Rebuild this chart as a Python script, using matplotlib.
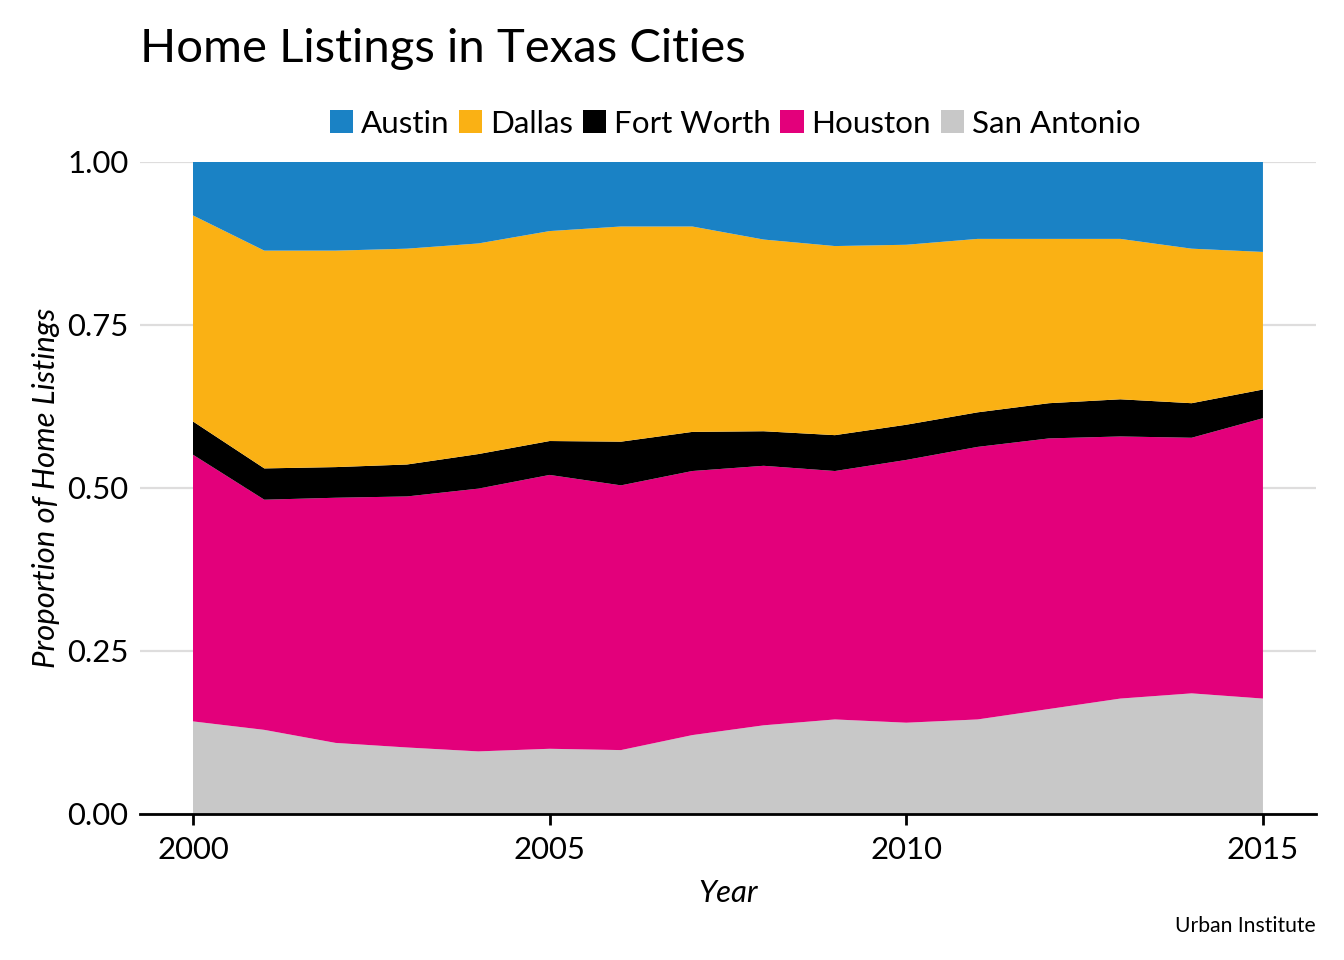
import matplotlib.pyplot as plt
from matplotlib.patches import Patch

plt.rcParams["font.family"] = ["Lato", "DejaVu Sans"]

years = list(range(2000, 2016))
cities = ["Austin", "Dallas", "Fort Worth", "Houston", "San Antonio"]
colors = ["#1a82c5", "#fab114", "#000000", "#e3007b", "#c8c8c8"]

austin = [0.082, 0.136, 0.136, 0.133, 0.125, 0.106, 0.099, 0.099,
          0.119, 0.129, 0.127, 0.118, 0.118, 0.118, 0.133, 0.138]
dallas = [0.316, 0.334, 0.332, 0.331, 0.323, 0.322, 0.330, 0.315,
          0.294, 0.290, 0.276, 0.266, 0.252, 0.246, 0.237, 0.211]
fort_worth = [0.051, 0.048, 0.047, 0.049, 0.053, 0.052, 0.067, 0.060,
              0.053, 0.055, 0.054, 0.053, 0.054, 0.057, 0.053, 0.044]
houston = [0.409, 0.353, 0.376, 0.385, 0.403, 0.420, 0.406, 0.405,
           0.398, 0.381, 0.403, 0.418, 0.415, 0.402, 0.392, 0.430]
san_antonio = [0.142, 0.129, 0.109, 0.102, 0.096, 0.100, 0.098, 0.121,
               0.136, 0.145, 0.140, 0.145, 0.161, 0.177, 0.185, 0.177]

fig = plt.figure(figsize=(6.72, 4.8), dpi=200)
ax = fig.add_axes([0.1038, 0.1521, 0.8757, 0.6792])

# stack bottom-up: San Antonio first, Austin on top
ax.stackplot(years, san_antonio, houston, fort_worth, dallas, austin,
             colors=colors[::-1], linewidth=0, zorder=2)

ax.set_xlim(1999.25, 2015.75)
ax.set_ylim(0, 1)
ax.set_yticks([0, 0.25, 0.5, 0.75, 1.0])
ax.set_yticklabels(["0.00", "0.25", "0.50", "0.75", "1.00"])
ax.set_xticks([2000, 2005, 2010, 2015])
ax.grid(axis="y", color="#dedddd", linewidth=0.8, zorder=0)
ax.set_axisbelow(True)

for side in ["top", "right", "left"]:
    ax.spines[side].set_visible(False)
ax.spines["bottom"].set_linewidth(1.0)
ax.spines["bottom"].set_zorder(3)
ax.tick_params(axis="y", length=0, labelsize=11.2, pad=4)
ax.tick_params(axis="x", length=4, width=1.0, labelsize=11.2, pad=4)

ax.set_xlabel("Year", fontsize=11.2, style="italic", labelpad=5.5)
ax.set_ylabel("Proportion of Home Listings", fontsize=11.2, style="italic", labelpad=2.5)

fig.text(0.1045, 0.949, "Home Listings in Texas Cities", fontsize=17.0,
         ha="left", va="center")

handles = [Patch(facecolor=c, edgecolor="none") for c in colors]
ax.legend(handles, cities, loc="lower center", bbox_to_anchor=(0.506, 1.037),
          ncol=5, frameon=False, fontsize=11.3, handlelength=0.75,
          handleheight=0.75, handletextpad=0.25, columnspacing=0.3,
          borderaxespad=0, borderpad=0)

fig.text(0.979, 0.035, "Urban Institute", fontsize=7.6, ha="right", va="center")

fig.savefig("out.png", dpi=200)
